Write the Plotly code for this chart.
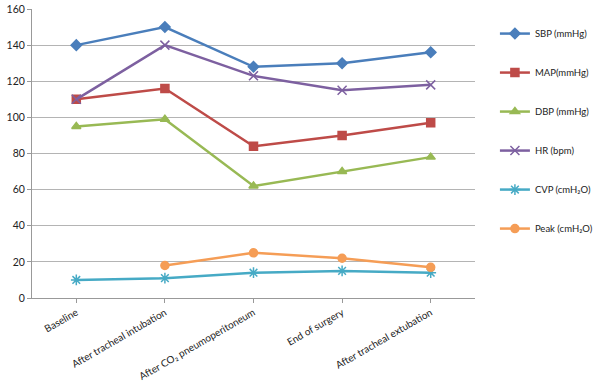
import plotly.graph_objects as go

categories = ["Baseline", "After tracheal intubation", "After CO₂ pneumoperitoneum",
              "End of surgery", "After tracheal extubation"]
sbp = [140, 150, 128, 130, 136]
map_ = [110, 116, 84, 90, 97]
dbp = [95, 99, 62, 70, 78]
hr = [110, 140, 123, 115, 118]
cvp = [10, 11, 14, 15, 14]
peak = [None, 18, 25, 22, 17]

series = [
    ("SBP (mmHg)", sbp, "#4A7EBB", "diamond", 8),
    ("MAP(mmHg)", map_, "#BE4B48", "square", 8),
    ("DBP (mmHg)", dbp, "#98B954", "triangle-up", 8),
    ("HR (bpm)", hr, "#7D60A0", "x-thin", 9),
    ("CVP (cmH₂O)", cvp, "#46AAC5", "asterisk", 9),
    ("Peak (cmH₂O)", peak, "#F59D56", "circle", 8),
]

fig = go.Figure()
for i, (name, vals, color, sym, size) in enumerate(series):
    fig.add_trace(go.Scatter(
        x=categories, y=vals, name=name, mode="lines+markers",
        line=dict(color=color, width=2.5),
        marker=dict(symbol=sym, size=size, color=color,
                    line=dict(color=color, width=1.5)),
        legendgroup=f"g{i}",
    ))

fig.update_layout(
    template="none",
    width=600, height=390,
    margin=dict(l=32, r=0, t=0, b=92),
    paper_bgcolor="white", plot_bgcolor="white",
    font=dict(family="Lato, Liberation Sans, sans-serif", size=9, color="#333333"),
    showlegend=True,
    legend=dict(x=0.815, y=0.936, xanchor="left", yanchor="top",
                font=dict(size=9.5, color="#222222"), tracegroupgap=20,
                itemwidth=30, bgcolor="rgba(0,0,0,0)"),
)
fig.update_xaxes(
    type="category", range=[-0.5, 4.5], domain=[0, 443 / 568], tickangle=-30,
    showline=True, linecolor="#999999", linewidth=1, automargin=False,
    ticks="outside", ticklen=4, tickcolor="#999999", showgrid=False,
    tickfont=dict(size=10, color="#222222"),
)
fig.update_yaxes(
    range=[0, 160], dtick=20, domain=[0, 289 / 298], showline=True,
    linecolor="#999999", linewidth=1, automargin=False,
    ticks="outside", ticklen=4, tickcolor="#999999", showgrid=True,
    gridcolor="#B4B4B4", gridwidth=1, zeroline=False,
    tickfont=dict(size=10.5, color="#222222"),
)

fig.write_html("out.html", config={"displayModeBar": False},
               post_script="document.body.style.margin='0';")
